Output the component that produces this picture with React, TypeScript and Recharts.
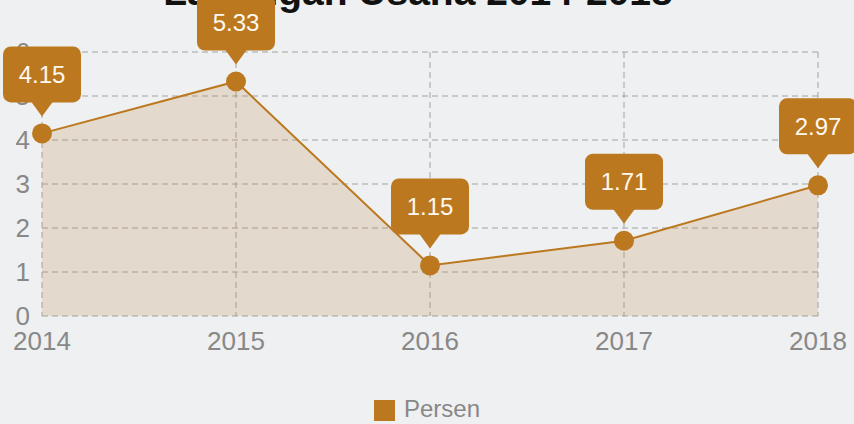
import React from 'react'
import { AreaChart, Area, XAxis, YAxis, CartesianGrid, Legend, LabelList } from 'recharts'

const years = ['2014', '2015', '2016', '2017', '2018']
const persen = [4.15, 5.33, 1.15, 1.71, 2.97]
const yTicks = [0, 1, 2, 3, 4, 5, 6]

const BROWN = '#bc781f'

// callout box with a pointer that sits above each point
function Callout(props: any) {
  const { x, y, value } = props
  if (x == null || y == null) return null
  const w = 78
  const h = 56
  const top = y - 87
  const bottom = top + h
  return (
    <g>
      <rect x={x - w / 2} y={top} width={w} height={h} rx={8} fill={BROWN} />
      <polygon points={`${x - 11},${bottom - 1} ${x + 11},${bottom - 1} ${x},${y - 17}`} fill={BROWN} />
      <text
        x={x}
        y={top + h / 2}
        textAnchor="middle"
        dominantBaseline="central"
        fill="#fdf8f0"
        fontSize={24}
      >
        {Number(value).toFixed(2)}
      </text>
    </g>
  )
}

export default function App() {
  const data = years.map((year, i) => ({ year, Persen: persen[i] }))

  return (
    <div
      style={{
        position: 'absolute',
        left: 0,
        top: 0,
        width: 854,
        height: 424,
        background: '#eef0f1',
        fontFamily: '"Liberation Sans", Arial, sans-serif',
        overflow: 'hidden',
      }}
    >
      <svg width={854} height={424} style={{ position: 'absolute', left: 0, top: 0 }}>
        <text x={418} y={5} textAnchor="middle" fontSize={39} fontWeight="bold" fill="#111">
          Lapangan Usaha 2014-2018
        </text>
      </svg>
      <div style={{ position: 'absolute', left: 0, top: 0 }}>
        <AreaChart width={854} height={424} data={data} margin={{ top: 52, right: 36, left: 0, bottom: 0 }}>
          <CartesianGrid stroke="#a2a2a2" strokeDasharray="6 4" />
          <XAxis
            dataKey="year"
            axisLine={false}
            tickLine={false}
            height={80}
            tickMargin={10}
            tick={{ fill: '#888888', fontSize: 26 }}
          />
          <YAxis
            domain={[0, 6]}
            ticks={yTicks}
            width={42}
            axisLine={false}
            tickLine={false}
            tickMargin={6}
            tick={{ fill: '#888888', fontSize: 26 }}
          />
          <Legend
            verticalAlign="bottom"
            height={28}
            iconType="square"
            iconSize={21}
            wrapperStyle={{ bottom: 1, left: 0, width: 864, fontSize: 24 }}
            formatter={(value: any) => <span style={{ color: '#888888', marginLeft: 5 }}>{value}</span>}
          />
          <Area
            type="linear"
            dataKey="Persen"
            stroke={BROWN}
            strokeWidth={2}
            fill="#c08a4a"
            fillOpacity={0.22}
            dot={{ r: 10, fill: BROWN, fillOpacity: 1, stroke: 'none' }}
            activeDot={false}
            isAnimationActive={false}
          >
            <LabelList dataKey="Persen" content={Callout} />
          </Area>
        </AreaChart>
      </div>
    </div>
  )
}
